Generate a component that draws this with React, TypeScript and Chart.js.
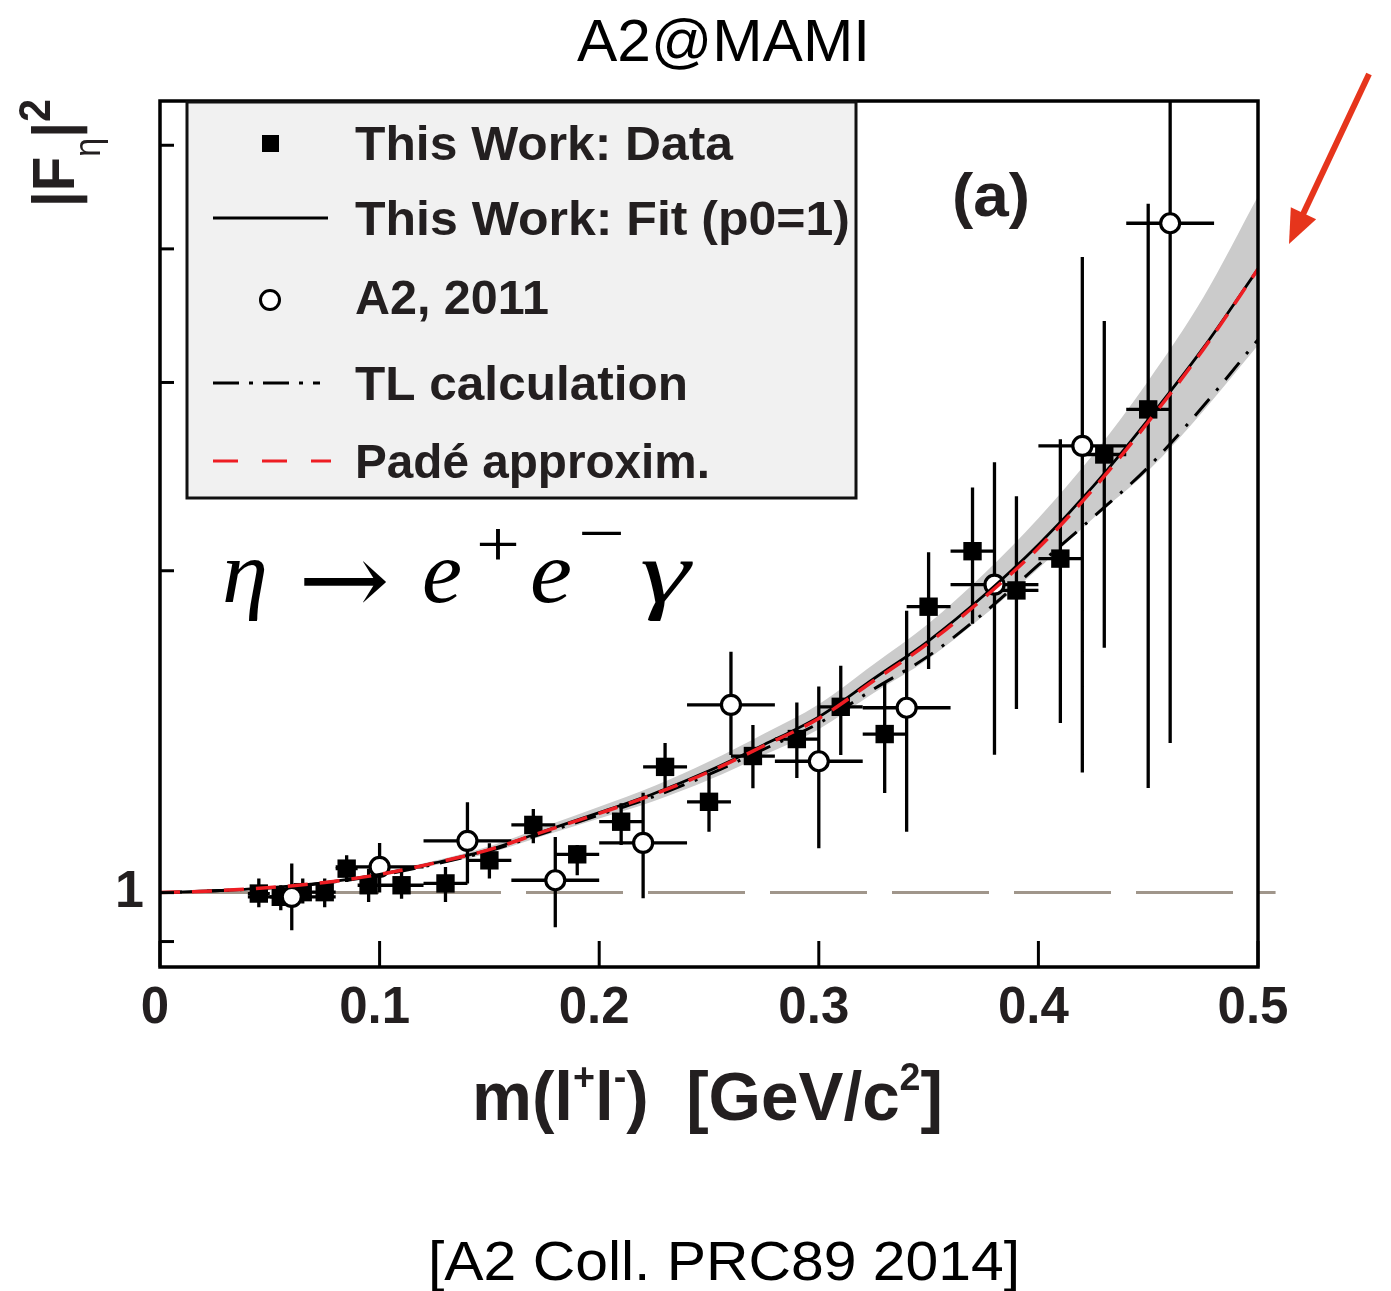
import React, { useEffect, useRef } from 'react';
import { Chart, registerables } from 'chart.js';

Chart.register(...registerables);

// ---------- data ----------
const curveX = [0, 0.025, 0.05, 0.075, 0.1, 0.125, 0.15, 0.175, 0.2, 0.225, 0.25, 0.275, 0.3, 0.325, 0.35, 0.375, 0.4, 0.425, 0.45, 0.475, 0.5];
const fitY = [1.0, 1.004, 1.011, 1.022, 1.04, 1.066, 1.097, 1.142, 1.188, 1.238, 1.3, 1.375, 1.46, 1.585, 1.72, 1.895, 2.115, 2.4, 2.77, 3.23, 3.83];
const padeY = [1.0, 1.004, 1.011, 1.022, 1.04, 1.066, 1.097, 1.141, 1.186, 1.236, 1.297, 1.372, 1.455, 1.578, 1.712, 1.885, 2.1, 2.385, 2.755, 3.22, 3.83];
const tlY = [1.0, 1.004, 1.01, 1.021, 1.038, 1.063, 1.094, 1.137, 1.182, 1.23, 1.29, 1.362, 1.44, 1.55, 1.665, 1.825, 2.025, 2.245, 2.5, 2.85, 3.29];
const bandUpperY = [1.0, 1.004, 1.012, 1.024, 1.044, 1.071, 1.105, 1.153, 1.203, 1.258, 1.326, 1.408, 1.5, 1.635, 1.785, 1.985, 2.24, 2.57, 3.01, 3.6, 4.48];
const bandLowerY = [1.0, 1.004, 1.01, 1.02, 1.036, 1.061, 1.089, 1.131, 1.173, 1.218, 1.275, 1.345, 1.422, 1.537, 1.655, 1.815, 2.01, 2.24, 2.48, 2.82, 3.25];

const refLineX = [0, 0.508];
const refLineY = [1, 1];

// This Work: Data (filled squares)
const dataX = [0.045, 0.055, 0.065, 0.075, 0.085, 0.095, 0.11, 0.13, 0.15, 0.17, 0.19, 0.21, 0.23, 0.25, 0.27, 0.29, 0.31, 0.33, 0.35, 0.37, 0.39, 0.41, 0.43, 0.45];
const dataY = [0.998, 0.991, 1.001, 1.001, 1.053, 1.016, 1.016, 1.02, 1.072, 1.157, 1.086, 1.165, 1.311, 1.216, 1.342, 1.392, 1.492, 1.407, 1.851, 2.086, 1.917, 2.053, 2.569, 2.831];
const dataLo = [0.969, 0.963, 0.977, 0.969, 1.023, 0.98, 0.987, 0.98, 1.031, 1.112, 1.038, 1.108, 1.252, 1.14, 1.252, 1.28, 1.345, 1.239, 1.619, 1.784, 1.485, 1.441, 1.694, 1.253];
const dataHi = [1.031, 1.016, 1.031, 1.031, 1.084, 1.053, 1.053, 1.057, 1.112, 1.197, 1.108, 1.212, 1.38, 1.294, 1.435, 1.506, 1.63, 1.571, 2.081, 2.393, 2.348, 2.654, 3.425, 4.408];
const dataXErr = [0.005, 0.005, 0.005, 0.005, 0.005, 0.005, 0.01, 0.01, 0.01, 0.01, 0.01, 0.01, 0.01, 0.01, 0.01, 0.01, 0.01, 0.01, 0.01, 0.01, 0.01, 0.01, 0.01, 0.01];

// A2, 2011 (open circles)
const a2X = [0.06, 0.1, 0.14, 0.18, 0.22, 0.26, 0.3, 0.34, 0.38, 0.42, 0.46];
const a2Y = [0.991, 1.057, 1.118, 1.027, 1.113, 1.498, 1.327, 1.489, 1.941, 2.617, 4.227];
const a2Lo = [0.922, 1.0, 1.02, 0.928, 0.988, 1.345, 1.1, 1.14, 1.346, 1.295, 1.38];
const a2Hi = [1.065, 1.113, 1.215, 1.127, 1.24, 1.68, 1.559, 1.835, 2.527, 3.931, 7.0];
const a2XErr = [0.02, 0.02, 0.02, 0.02, 0.02, 0.02, 0.02, 0.02, 0.02, 0.02, 0.02];

const xTickValues = [0, 0.1, 0.2, 0.3, 0.4, 0.5];
const xTickLabels = ['0', '0.1', '0.2', '0.3', '0.4', '0.5'];
const yTickValues = [0.9, 1, 2, 3, 4, 5];
const yTickLabels = ['', '1', '', '', '', ''];

const legendLabels = ['This Work: Data', 'This Work: Fit (p0=1)', 'A2, 2011', 'TL calculation', 'Padé approxim.'];
const titleText = 'A2@MAMI';
const sourceText = '[A2 Coll. PRC89 2014]';
const panelLabel = '(a)';

// ---------- styles ----------
const TEXT = '#231f20';
const RED = '#ee1d23';
const BAND = '#cbcbcb';
const REF = '#a0968b';
const TL_DASH = [22, 11, 3, 11];
const PADE_DASH = [20, 12];
const SANS = '"Liberation Sans", Arial, sans-serif';
const SERIF = '"Liberation Serif", "Times New Roman", serif';

type Run = { text: string; font: string; dy?: number };

function drawRuns(ctx: CanvasRenderingContext2D, runs: Run[], x: number, y: number, targetWidth?: number) {
  ctx.save();
  let total = 0;
  const widths = runs.map((r) => {
    ctx.font = r.font;
    const w = ctx.measureText(r.text).width;
    total += w;
    return w;
  });
  const sx = targetWidth ? targetWidth / total : 1;
  ctx.translate(x, y);
  ctx.scale(sx, 1);
  ctx.textAlign = 'left';
  ctx.textBaseline = 'alphabetic';
  let cx = 0;
  runs.forEach((r, i) => {
    ctx.font = r.font;
    ctx.fillText(r.text, cx, r.dy || 0);
    cx += widths[i];
  });
  ctx.restore();
}

function pts(xs: number[], ys: number[]) {
  return xs.map((x, i) => ({ x, y: ys[i] }));
}
function vBars(xs: number[], lo: number[], hi: number[]) {
  const out: any[] = [];
  xs.forEach((x, i) => {
    out.push({ x, y: lo[i] }, { x, y: hi[i] }, { x, y: null });
  });
  return out;
}
function hBars(xs: number[], ys: number[], xe: number[]) {
  const out: any[] = [];
  xs.forEach((x, i) => {
    out.push({ x: x - xe[i], y: ys[i] }, { x: x + xe[i], y: ys[i] }, { x, y: null });
  });
  return out;
}

const decorPlugin = {
  id: 'decor',
  afterDatasetsDraw(chart: any) {
    const { ctx, chartArea: a, scales } = chart;
    ctx.save();
    ctx.strokeStyle = '#000';
    ctx.lineWidth = 3;
    yTickValues.forEach((v) => {
      const y = scales.y.getPixelForValue(v);
      ctx.beginPath();
      ctx.moveTo(a.left, y);
      ctx.lineTo(a.left + 14, y);
      ctx.stroke();
    });
    xTickValues.forEach((v) => {
      const x = scales.x.getPixelForValue(v);
      ctx.beginPath();
      ctx.moveTo(x, a.bottom);
      ctx.lineTo(x, a.bottom - 26);
      ctx.stroke();
    });
    ctx.lineWidth = 3.5;
    ctx.strokeRect(a.left, a.top, a.right - a.left, a.bottom - a.top);
    ctx.restore();
  },
  afterDraw(chart: any) {
    const { ctx } = chart;
    ctx.save();
    ctx.fillStyle = TEXT;

    // ----- legend -----
    const lx = 187, ly = 102, lw = 669, lh = 396;
    ctx.fillStyle = '#f1f1f1';
    ctx.fillRect(lx, ly, lw, lh);
    ctx.strokeStyle = '#111';
    ctx.lineWidth = 3;
    ctx.strokeRect(lx, ly, lw, lh);

    const rowY = [143, 218, 300, 383, 461];
    const baseY = [160, 235, 314, 400, 478];
    const textW = [378, 495, 194, 333, 355];
    // square
    ctx.fillStyle = '#000';
    ctx.fillRect(262, rowY[0] - 8, 17, 17);
    // solid line
    ctx.strokeStyle = '#000';
    ctx.lineWidth = 3;
    ctx.beginPath();
    ctx.moveTo(213, rowY[1]);
    ctx.lineTo(328, rowY[1]);
    ctx.stroke();
    // circle
    ctx.beginPath();
    ctx.arc(270, rowY[2], 9.5, 0, Math.PI * 2);
    ctx.fillStyle = '#fff';
    ctx.fill();
    ctx.lineWidth = 3;
    ctx.stroke();
    // dash-dot
    ctx.setLineDash([26, 10, 4, 10]);
    ctx.beginPath();
    ctx.moveTo(213, rowY[3]);
    ctx.lineTo(320, rowY[3]);
    ctx.stroke();
    // red dashed
    ctx.strokeStyle = RED;
    ctx.setLineDash([25, 24]);
    ctx.beginPath();
    ctx.moveTo(213, rowY[4]);
    ctx.lineTo(331, rowY[4]);
    ctx.stroke();
    ctx.setLineDash([]);

    ctx.fillStyle = TEXT;
    legendLabels.forEach((t, i) => {
      drawRuns(ctx, [{ text: t, font: `bold 49px ${SANS}` }], 355, baseY[i], textW[i]);
    });

    // ----- panel label -----
    drawRuns(ctx, [{ text: panelLabel, font: `bold 62px ${SANS}` }], 952, 216, 78);

    // ----- reaction formula -----
    ctx.fillStyle = '#000';
    drawRuns(ctx, [{ text: 'η', font: `italic 88px ${SERIF}` }], 222, 602, 46);
    drawRuns(ctx, [{ text: '→', font: `100px "DejaVu Serif", "DejaVu Sans", serif` }], 298, 614, 92);
    drawRuns(ctx, [{ text: 'e', font: `italic 88px ${SERIF}` }], 422, 602, 40);
    drawRuns(ctx, [{ text: '+', font: `66px ${SERIF}` }], 476, 566, 44);
    drawRuns(ctx, [{ text: 'e', font: `italic 88px ${SERIF}` }], 530, 602, 42);
    drawRuns(ctx, [{ text: '−', font: `66px ${SERIF}` }], 578, 555, 47);
    drawRuns(ctx, [{ text: 'γ', font: `italic 88px ${SERIF}` }], 640, 602, 50);

    // ----- titles -----
    ctx.fillStyle = '#000';
    drawRuns(ctx, [{ text: titleText, font: `60px ${SANS}` }], 577, 61, 293);
    drawRuns(ctx, [{ text: sourceText, font: `56px ${SANS}` }], 428, 1280, 592);

    // x axis title
    ctx.fillStyle = TEXT;
    const big = `bold 68px ${SANS}`;
    const sup = `bold 38px ${SANS}`;
    drawRuns(
      ctx,
      [
        { text: 'm(l', font: big },
        { text: '+', font: sup, dy: -30 },
        { text: 'l', font: big },
        { text: '-', font: sup, dy: -30 },
        { text: ')  [GeV/c', font: big },
        { text: '2', font: sup, dy: -30 },
        { text: ']', font: big },
      ],
      472,
      1120,
      471
    );

    // y axis title (rotated)
    ctx.save();
    ctx.translate(74, 207);
    ctx.rotate(-Math.PI / 2);
    drawRuns(
      ctx,
      [
        { text: '|F', font: `bold 60px ${SANS}` },
        { text: 'η', font: `36px ${SANS}`, dy: 26 },
        { text: '|', font: `bold 60px ${SANS}` },
        { text: '2', font: `bold 44px ${SANS}`, dy: -24 },
      ],
      0,
      0,
      108
    );
    ctx.restore();

    // ----- red arrow -----
    const tail = { x: 1369, y: 74 };
    const tip = { x: 1289, y: 244 };
    const dx = tip.x - tail.x, dyy = tip.y - tail.y;
    const len = Math.hypot(dx, dyy);
    const ux = dx / len, uy = dyy / len;
    const bx = tip.x - ux * 34, by = tip.y - uy * 34;
    ctx.strokeStyle = '#e6351c';
    ctx.fillStyle = '#e6351c';
    ctx.lineWidth = 6;
    ctx.beginPath();
    ctx.moveTo(tail.x, tail.y);
    ctx.lineTo(bx + ux * 4, by + uy * 4);
    ctx.stroke();
    ctx.beginPath();
    ctx.moveTo(tip.x, tip.y);
    ctx.lineTo(bx + -uy * 14, by + ux * 14);
    ctx.lineTo(bx - -uy * 14, by - ux * 14);
    ctx.closePath();
    ctx.fill();

    ctx.restore();
  },
};

export default function App() {
  const ref = useRef<HTMLCanvasElement | null>(null);

  useEffect(() => {
    if (!ref.current) return;
    const lineBase = { showLine: true, pointRadius: 0, pointHoverRadius: 0, fill: false };
    const chart = new Chart(ref.current, {
      type: 'scatter',
      data: {
        datasets: [
          { ...lineBase, label: 'band-up', data: pts(curveX, bandUpperY), borderWidth: 0, borderColor: BAND, backgroundColor: BAND, fill: '+1', order: 20, cubicInterpolationMode: 'monotone' },
          { ...lineBase, label: 'band-lo', data: pts(curveX, bandLowerY), borderWidth: 0, borderColor: BAND, order: 20, cubicInterpolationMode: 'monotone' },
          { ...lineBase, label: 'ref', data: pts(refLineX, refLineY), borderColor: REF, borderWidth: 3, borderDash: [97, 25], order: 19, clip: false },
          { ...lineBase, label: 'dataV', data: vBars(dataX, dataLo, dataHi), borderColor: '#000', borderWidth: 3.3, order: 12 },
          { ...lineBase, label: 'dataH', data: hBars(dataX, dataY, dataXErr), borderColor: '#000', borderWidth: 3.3, order: 12 },
          { ...lineBase, label: 'a2V', data: vBars(a2X, a2Lo, a2Hi), borderColor: '#000', borderWidth: 3.3, order: 11 },
          { ...lineBase, label: 'a2H', data: hBars(a2X, a2Y, a2XErr), borderColor: '#000', borderWidth: 3.3, order: 11 },
          { label: legendLabels[0], data: pts(dataX, dataY), showLine: false, pointStyle: 'rect', pointRadius: 13, pointBackgroundColor: '#000', pointBorderColor: '#000', pointBorderWidth: 0, order: 8 },
          { label: legendLabels[2], data: pts(a2X, a2Y), showLine: false, pointStyle: 'circle', pointRadius: 9.5, pointBackgroundColor: '#fff', pointBorderColor: '#000', pointBorderWidth: 3.2, order: 7 },
          { ...lineBase, label: legendLabels[3], data: pts(curveX, tlY), borderColor: '#000', borderWidth: 3, borderDash: TL_DASH, order: 3, cubicInterpolationMode: 'monotone' },
          { ...lineBase, label: legendLabels[1], data: pts(curveX, fitY), borderColor: '#000', borderWidth: 2.8, order: 2, cubicInterpolationMode: 'monotone' },
          { ...lineBase, label: legendLabels[4], data: pts(curveX, padeY), borderColor: RED, borderWidth: 3.5, borderDash: PADE_DASH, order: 1, cubicInterpolationMode: 'monotone' },
        ] as any,
      },
      options: {
        animation: false,
        responsive: false,
        devicePixelRatio: 1,
        events: [],
        layout: { padding: { left: 0, top: 101, right: 133, bottom: 0 } },
        plugins: { legend: { display: false }, tooltip: { enabled: false }, title: { display: false } },
        scales: {
          x: {
            type: 'linear',
            min: 0,
            max: 0.5,
            afterFit: (s: any) => {
              s.height = 324;
            },
            afterBuildTicks: (s: any) => {
              s.ticks = xTickValues.map((v) => ({ value: v }));
            },
            ticks: {
              callback: (_v: any, i: number) => xTickLabels[i],
              font: { family: 'Liberation Sans', size: 51, weight: 'bold' },
              color: TEXT,
              padding: 3,
              labelOffset: -5,
              maxRotation: 0,
              autoSkip: false,
            },
            grid: { display: false },
            border: { display: false },
          },
          y: {
            type: 'logarithmic',
            min: 0.852,
            max: 5.5,
            afterFit: (s: any) => {
              s.width = 160;
            },
            afterBuildTicks: (s: any) => {
              s.ticks = yTickValues.map((v) => ({ value: v }));
            },
            ticks: {
              callback: (_v: any, i: number) => yTickLabels[i],
              font: { family: 'Liberation Sans', size: 52, weight: 'bold' },
              color: TEXT,
              padding: 8,
              autoSkip: false,
            },
            grid: { display: false },
            border: { display: false },
          },
        },
      } as any,
      plugins: [decorPlugin as any],
    });
    return () => chart.destroy();
  }, []);

  return (
    <div style={{ position: 'absolute', left: 0, top: 0, width: 1391, height: 1291, background: '#fff' }}>
      <canvas ref={ref} width={1391} height={1291} style={{ width: 1391, height: 1291, display: 'block' }} />
    </div>
  );
}
